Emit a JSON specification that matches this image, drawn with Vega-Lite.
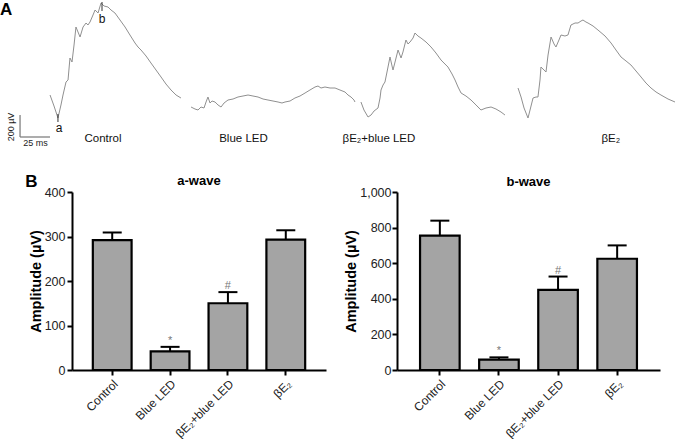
{
  "$schema": "https://vega.github.io/schema/vega-lite/v6.json",
  "padding": {"left": 0, "top": 0, "right": 0, "bottom": 0},
  "spacing": 3,
  "config": {"view": {"stroke": null}, "font": "Liberation Sans"},
  "datasets": {
    "traces": [
      {"trace":"Control","t":41.7,"uv":850},{"trace":"Control","t":45,"uv":740},{"trace":"Control","t":48.3,"uv":620},{"trace":"Control","t":50.8,"uv":750},{"trace":"Control","t":52.5,"uv":850},{"trace":"Control","t":55,"uv":980},{"trace":"Control","t":56.7,"uv":1000},{"trace":"Control","t":58.3,"uv":1220},{"trace":"Control","t":60,"uv":1180},{"trace":"Control","t":61.7,"uv":1350},{"trace":"Control","t":63.3,"uv":1530},{"trace":"Control","t":65,"uv":1480},{"trace":"Control","t":66.7,"uv":1430},{"trace":"Control","t":69.2,"uv":1530},{"trace":"Control","t":71.7,"uv":1570},{"trace":"Control","t":73.3,"uv":1550},{"trace":"Control","t":75,"uv":1580},{"trace":"Control","t":77.5,"uv":1650},{"trace":"Control","t":79.2,"uv":1700},{"trace":"Control","t":81.7,"uv":1670},{"trace":"Control","t":84.2,"uv":1770},{"trace":"Control","t":86.7,"uv":1740},{"trace":"Control","t":90,"uv":1730},{"trace":"Control","t":92.5,"uv":1700},{"trace":"Control","t":95.8,"uv":1670},{"trace":"Control","t":100,"uv":1600},{"trace":"Control","t":104.2,"uv":1530},{"trace":"Control","t":108.3,"uv":1450},{"trace":"Control","t":112.5,"uv":1370},{"trace":"Control","t":115,"uv":1330},{"trace":"Control","t":117.5,"uv":1300},{"trace":"Control","t":121.7,"uv":1240},{"trace":"Control","t":125.8,"uv":1170},{"trace":"Control","t":130,"uv":1100},{"trace":"Control","t":134.2,"uv":1030},{"trace":"Control","t":138.3,"uv":960},{"trace":"Control","t":142.5,"uv":900},{"trace":"Control","t":146.7,"uv":850},{"trace":"Control","t":150.8,"uv":820},
      {"trace":"Blue LED","t":159.2,"uv":730},{"trace":"Blue LED","t":162.5,"uv":710},{"trace":"Blue LED","t":165,"uv":700},{"trace":"Blue LED","t":167.5,"uv":730},{"trace":"Blue LED","t":170,"uv":720},{"trace":"Blue LED","t":171.7,"uv":780},{"trace":"Blue LED","t":173.3,"uv":830},{"trace":"Blue LED","t":175,"uv":770},{"trace":"Blue LED","t":176.7,"uv":790},{"trace":"Blue LED","t":179.2,"uv":780},{"trace":"Blue LED","t":181.7,"uv":750},{"trace":"Blue LED","t":184.2,"uv":730},{"trace":"Blue LED","t":186.7,"uv":770},{"trace":"Blue LED","t":190,"uv":800},{"trace":"Blue LED","t":194.2,"uv":810},{"trace":"Blue LED","t":198.3,"uv":830},{"trace":"Blue LED","t":202.5,"uv":840},{"trace":"Blue LED","t":206.7,"uv":850},{"trace":"Blue LED","t":210.8,"uv":840},{"trace":"Blue LED","t":215,"uv":830},{"trace":"Blue LED","t":219.2,"uv":810},{"trace":"Blue LED","t":223.3,"uv":800},{"trace":"Blue LED","t":227.5,"uv":790},{"trace":"Blue LED","t":231.7,"uv":780},{"trace":"Blue LED","t":235,"uv":770},{"trace":"Blue LED","t":237.5,"uv":780},{"trace":"Blue LED","t":241.7,"uv":790},{"trace":"Blue LED","t":245.8,"uv":820},{"trace":"Blue LED","t":250,"uv":840},{"trace":"Blue LED","t":254.2,"uv":870},{"trace":"Blue LED","t":258.3,"uv":900},{"trace":"Blue LED","t":262.5,"uv":930},{"trace":"Blue LED","t":265,"uv":940},{"trace":"Blue LED","t":267.5,"uv":920},{"trace":"Blue LED","t":270.8,"uv":930},{"trace":"Blue LED","t":275,"uv":920},{"trace":"Blue LED","t":279.2,"uv":920},{"trace":"Blue LED","t":283.3,"uv":900},{"trace":"Blue LED","t":287.5,"uv":880},{"trace":"Blue LED","t":290,"uv":850},{"trace":"Blue LED","t":292.5,"uv":830},{"trace":"Blue LED","t":295,"uv":800},{"trace":"Blue LED","t":295.8,"uv":780},
      {"trace":"bE2 blue","t":300.8,"uv":780},{"trace":"bE2 blue","t":303.3,"uv":700},{"trace":"bE2 blue","t":306.7,"uv":630},{"trace":"bE2 blue","t":309.2,"uv":650},{"trace":"bE2 blue","t":311.7,"uv":690},{"trace":"bE2 blue","t":315,"uv":720},{"trace":"bE2 blue","t":316.7,"uv":820},{"trace":"bE2 blue","t":317.5,"uv":900},{"trace":"bE2 blue","t":319.2,"uv":950},{"trace":"bE2 blue","t":320.8,"uv":980},{"trace":"bE2 blue","t":322.5,"uv":1080},{"trace":"bE2 blue","t":325,"uv":1230},{"trace":"bE2 blue","t":326.7,"uv":1140},{"trace":"bE2 blue","t":327.5,"uv":1100},{"trace":"bE2 blue","t":329.2,"uv":1180},{"trace":"bE2 blue","t":331.7,"uv":1300},{"trace":"bE2 blue","t":334.2,"uv":1220},{"trace":"bE2 blue","t":335.8,"uv":1280},{"trace":"bE2 blue","t":338.3,"uv":1400},{"trace":"bE2 blue","t":340,"uv":1360},{"trace":"bE2 blue","t":341.7,"uv":1380},{"trace":"bE2 blue","t":344.2,"uv":1420},{"trace":"bE2 blue","t":345.8,"uv":1470},{"trace":"bE2 blue","t":348.3,"uv":1440},{"trace":"bE2 blue","t":350.8,"uv":1420},{"trace":"bE2 blue","t":355,"uv":1380},{"trace":"bE2 blue","t":359.2,"uv":1330},{"trace":"bE2 blue","t":363.3,"uv":1270},{"trace":"bE2 blue","t":367.5,"uv":1200},{"trace":"bE2 blue","t":370.8,"uv":1160},{"trace":"bE2 blue","t":373.3,"uv":1130},{"trace":"bE2 blue","t":376.7,"uv":1060},{"trace":"bE2 blue","t":379.2,"uv":1000},{"trace":"bE2 blue","t":381.7,"uv":930},{"trace":"bE2 blue","t":384.2,"uv":870},{"trace":"bE2 blue","t":388.3,"uv":840},{"trace":"bE2 blue","t":392.5,"uv":800},{"trace":"bE2 blue","t":396.7,"uv":750},{"trace":"bE2 blue","t":400.8,"uv":700},{"trace":"bE2 blue","t":405,"uv":720},{"trace":"bE2 blue","t":409.2,"uv":730},{"trace":"bE2 blue","t":413.3,"uv":710},{"trace":"bE2 blue","t":417.5,"uv":680},{"trace":"bE2 blue","t":420.8,"uv":650},
      {"trace":"bE2","t":431.7,"uv":920},{"trace":"bE2","t":434.2,"uv":830},{"trace":"bE2","t":436.7,"uv":720},{"trace":"bE2","t":440,"uv":620},{"trace":"bE2","t":441.7,"uv":700},{"trace":"bE2","t":444.2,"uv":820},{"trace":"bE2","t":446.7,"uv":830},{"trace":"bE2","t":448.3,"uv":830},{"trace":"bE2","t":450,"uv":1000},{"trace":"bE2","t":450.8,"uv":1130},{"trace":"bE2","t":453.3,"uv":1100},{"trace":"bE2","t":455,"uv":1080},{"trace":"bE2","t":456.7,"uv":1250},{"trace":"bE2","t":459.2,"uv":1430},{"trace":"bE2","t":461.7,"uv":1360},{"trace":"bE2","t":463.3,"uv":1330},{"trace":"bE2","t":465.8,"uv":1400},{"trace":"bE2","t":467.5,"uv":1450},{"trace":"bE2","t":470.8,"uv":1440},{"trace":"bE2","t":473.3,"uv":1450},{"trace":"bE2","t":475.8,"uv":1550},{"trace":"bE2","t":479.2,"uv":1570},{"trace":"bE2","t":481.7,"uv":1570},{"trace":"bE2","t":484.2,"uv":1590},{"trace":"bE2","t":485.8,"uv":1600},{"trace":"bE2","t":488.3,"uv":1580},{"trace":"bE2","t":490,"uv":1570},{"trace":"bE2","t":494.2,"uv":1540},{"trace":"bE2","t":498.3,"uv":1500},{"trace":"bE2","t":504.2,"uv":1440},{"trace":"bE2","t":509.2,"uv":1370},{"trace":"bE2","t":513.3,"uv":1300},{"trace":"bE2","t":517.5,"uv":1230},{"trace":"bE2","t":521.7,"uv":1190},{"trace":"bE2","t":525.8,"uv":1150},{"trace":"bE2","t":530,"uv":1090},{"trace":"bE2","t":534.2,"uv":1030},{"trace":"bE2","t":538.3,"uv":970},{"trace":"bE2","t":542.5,"uv":920},{"trace":"bE2","t":546.7,"uv":880},{"trace":"bE2","t":550.8,"uv":850},{"trace":"bE2","t":556.7,"uv":810},{"trace":"bE2","t":562.5,"uv":780}
    ],
    "markers": [
      {"t":48.3,"uv":580,"uv2":660},
      {"t":85,"uv":1690,"uv2":1780}
    ],
    "markerLabels": [
      {"t":49.2,"uv":520,"label":"a"},
      {"t":85,"uv":1610,"label":"b"}
    ],
    "scalebar": [
      {"t":16.7,"t2":16.7,"uv":430,"uv2":650},
      {"t":16.7,"t2":41.7,"uv":430,"uv2":430}
    ],
    "scaleV": [{"t":9.2,"uv":530,"label":"200 µV"}],
    "scaleH": [{"t":29.6,"uv":375,"label":"25 ms"}],
    "conditions": [
      {"t":85.8,"uv":410,"label":"Control"},
      {"t":202.9,"uv":410,"label":"Blue LED"},
      {"t":315.8,"uv":410,"label":"βE₂+blue LED"},
      {"t":509,"uv":410,"label":"βE₂"}
    ],
    "panelA": [{"t":0,"uv":1700,"label":"A"}],
    "awave": [
      {"group":"Control","mean":292,"upper":309,"sig":""},
      {"group":"Blue LED","mean":42,"upper":52,"sig":"*"},
      {"group":"βE₂+blue LED","mean":150,"upper":175,"sig":"#"},
      {"group":"βE₂","mean":293,"upper":314,"sig":""}
    ],
    "bwave": [
      {"group":"Control","mean":755,"upper":839,"sig":""},
      {"group":"Blue LED","mean":58,"upper":71,"sig":"*"},
      {"group":"βE₂+blue LED","mean":450,"upper":525,"sig":"#"},
      {"group":"βE₂","mean":625,"upper":700,"sig":""}
    ]
  },
  "vconcat": [
    {
      "width": 678,
      "height": 170,
      "encoding": {
        "x": {"field": "t", "type": "quantitative", "scale": {"domain": [0, 565], "nice": false, "zero": false}, "axis": null},
        "y": {"field": "uv", "type": "quantitative", "scale": {"domain": [100, 1800], "nice": false, "zero": false}, "axis": null}
      },
      "layer": [
        {"data": {"name": "traces"}, "mark": {"type": "line", "color": "#909090", "strokeWidth": 1}, "encoding": {"detail": {"field": "trace"}}},
        {"data": {"name": "markers"}, "mark": {"type": "rule", "color": "#333333", "strokeWidth": 1}, "encoding": {"y2": {"field": "uv2"}}},
        {"data": {"name": "markerLabels"}, "mark": {"type": "text", "fontSize": 12, "color": "#111111", "baseline": "middle"}, "encoding": {"text": {"field": "label"}}},
        {"data": {"name": "scalebar"}, "mark": {"type": "rule", "color": "#777777", "strokeWidth": 1.2}, "encoding": {"x2": {"field": "t2"}, "y2": {"field": "uv2"}}},
        {"data": {"name": "scaleV"}, "mark": {"type": "text", "fontSize": 9, "color": "#222222", "angle": 270, "baseline": "middle"}, "encoding": {"text": {"field": "label"}}},
        {"data": {"name": "scaleH"}, "mark": {"type": "text", "fontSize": 9, "color": "#222222", "baseline": "middle"}, "encoding": {"text": {"field": "label"}}},
        {"data": {"name": "conditions"}, "mark": {"type": "text", "fontSize": 11.5, "color": "#111111", "baseline": "middle"}, "encoding": {"text": {"field": "label"}}},
        {"data": {"name": "panelA"}, "mark": {"type": "text", "fontSize": 17, "fontWeight": "bold", "color": "#000000", "align": "left", "baseline": "middle"}, "encoding": {"text": {"field": "label"}}}
      ]
    },
    {
      "spacing": 17,
      "hconcat": [
        {"width": 8, "height": 5, "data": {"values": []}, "mark": "point"},
        {
          "width": 254,
          "height": 178,
          "title": {"text": "a-wave", "fontSize": 13, "fontWeight": "bold", "color": "#000000", "frame": "group", "offset": -15},
          "data": {"name": "awave"},
          "encoding": {
            "x": {"field": "group", "type": "nominal", "sort": null, "scale": {"paddingInner": 0.33, "paddingOuter": 0.36},
              "axis": {"title": null, "labelAngle": -45, "labelFontSize": 12, "labelColor": "#222222", "domainColor": "#000000", "domainWidth": 2, "tickColor": "#000000", "tickWidth": 2, "tickSize": 5, "labelPadding": 3, "labelOverlap": false}}
          },
          "layer": [
            {"mark": {"type": "rule", "color": "#000000", "strokeWidth": 2},
              "encoding": {"y": {"field": "mean", "type": "quantitative", "scale": {"domain": [0, 400]},
                "axis": {"title": "Amplitude (µV)", "titleFontSize": 14.5, "titleFontWeight": "bold", "titleColor": "#000000", "titlePadding": 1, "labelFontSize": 12.5, "labelColor": "#222222", "domainColor": "#000000", "domainWidth": 2, "tickColor": "#000000", "tickWidth": 2, "tickSize": 5, "grid": false, "values": [0, 100, 200, 300, 400], "labelPadding": 2, "labelOverlap": false}},
                "y2": {"field": "upper"}}},
            {"mark": {"type": "tick", "color": "#000000", "size": 19, "thickness": 2, "opacity": 1}, "encoding": {"y": {"field": "upper", "type": "quantitative",
                "axis": {"title": "Amplitude (µV)", "titleFontSize": 14.5, "titleFontWeight": "bold", "titleColor": "#000000", "titlePadding": 1, "labelFontSize": 12.5, "labelColor": "#222222", "domainColor": "#000000", "domainWidth": 2, "tickColor": "#000000", "tickWidth": 2, "tickSize": 5, "grid": false, "values": [0, 100, 200, 300, 400], "labelPadding": 2, "labelOverlap": false}}}},
            {"mark": {"type": "bar", "fill": "#a4a4a4", "stroke": "#000000", "strokeWidth": 2.2}, "encoding": {"y": {"field": "mean", "type": "quantitative",
                "axis": {"title": "Amplitude (µV)", "titleFontSize": 14.5, "titleFontWeight": "bold", "titleColor": "#000000", "titlePadding": 1, "labelFontSize": 12.5, "labelColor": "#222222", "domainColor": "#000000", "domainWidth": 2, "tickColor": "#000000", "tickWidth": 2, "tickSize": 5, "grid": false, "values": [0, 100, 200, 300, 400], "labelPadding": 2, "labelOverlap": false}}}},
            {"transform": [{"filter": "datum.sig != ''"}], "mark": {"type": "text", "fontSize": 11, "color": "#777777", "baseline": "bottom", "dy": -1}, "encoding": {"y": {"field": "upper", "type": "quantitative",
                "axis": {"title": "Amplitude (µV)", "titleFontSize": 14.5, "titleFontWeight": "bold", "titleColor": "#000000", "titlePadding": 1, "labelFontSize": 12.5, "labelColor": "#222222", "domainColor": "#000000", "domainWidth": 2, "tickColor": "#000000", "tickWidth": 2, "tickSize": 5, "grid": false, "values": [0, 100, 200, 300, 400], "labelPadding": 2, "labelOverlap": false}}, "text": {"field": "sig"}}},
            {"data": {"values": [{"label": "B"}]}, "mark": {"type": "text", "fontSize": 17, "fontWeight": "bold", "color": "#000000", "align": "left", "baseline": "alphabetic", "dx": -87},
              "encoding": {"x": {"datum": "Control"}, "y": {"datum": 411}, "text": {"field": "label"}}}
          ]
        },
        {
          "width": 263,
          "height": 178,
          "title": {"text": "b-wave", "fontSize": 13, "fontWeight": "bold", "color": "#000000", "frame": "group", "offset": -3},
          "data": {"name": "bwave"},
          "encoding": {
            "x": {"field": "group", "type": "nominal", "sort": null, "scale": {"paddingInner": 0.33, "paddingOuter": 0.39},
              "axis": {"title": null, "labelAngle": -45, "labelFontSize": 12, "labelColor": "#222222", "domainColor": "#000000", "domainWidth": 2, "tickColor": "#000000", "tickWidth": 2, "tickSize": 5, "labelPadding": 3, "labelOverlap": false}}
          },
          "layer": [
            {"mark": {"type": "rule", "color": "#000000", "strokeWidth": 2},
              "encoding": {"y": {"field": "mean", "type": "quantitative", "scale": {"domain": [0, 1000]},
                "axis": {"title": "Amplitude (µV)", "titleFontSize": 14.5, "titleFontWeight": "bold", "titleColor": "#000000", "titlePadding": 1, "labelFontSize": 12.5, "labelColor": "#222222", "domainColor": "#000000", "domainWidth": 2, "tickColor": "#000000", "tickWidth": 2, "tickSize": 5, "grid": false, "values": [0, 200, 400, 600, 800, 1000], "format": ",d", "labelPadding": 1, "labelOverlap": false}},
                "y2": {"field": "upper"}}},
            {"mark": {"type": "tick", "color": "#000000", "size": 19, "thickness": 2, "opacity": 1}, "encoding": {"y": {"field": "upper", "type": "quantitative",
                "axis": {"title": "Amplitude (µV)", "titleFontSize": 14.5, "titleFontWeight": "bold", "titleColor": "#000000", "titlePadding": 1, "labelFontSize": 12.5, "labelColor": "#222222", "domainColor": "#000000", "domainWidth": 2, "tickColor": "#000000", "tickWidth": 2, "tickSize": 5, "grid": false, "values": [0, 200, 400, 600, 800, 1000], "format": ",d", "labelPadding": 1, "labelOverlap": false}}}},
            {"mark": {"type": "bar", "fill": "#a4a4a4", "stroke": "#000000", "strokeWidth": 2.2}, "encoding": {"y": {"field": "mean", "type": "quantitative",
                "axis": {"title": "Amplitude (µV)", "titleFontSize": 14.5, "titleFontWeight": "bold", "titleColor": "#000000", "titlePadding": 1, "labelFontSize": 12.5, "labelColor": "#222222", "domainColor": "#000000", "domainWidth": 2, "tickColor": "#000000", "tickWidth": 2, "tickSize": 5, "grid": false, "values": [0, 200, 400, 600, 800, 1000], "format": ",d", "labelPadding": 1, "labelOverlap": false}}}},
            {"transform": [{"filter": "datum.sig != ''"}], "mark": {"type": "text", "fontSize": 11, "color": "#777777", "baseline": "bottom", "dy": -1}, "encoding": {"y": {"field": "upper", "type": "quantitative",
                "axis": {"title": "Amplitude (µV)", "titleFontSize": 14.5, "titleFontWeight": "bold", "titleColor": "#000000", "titlePadding": 1, "labelFontSize": 12.5, "labelColor": "#222222", "domainColor": "#000000", "domainWidth": 2, "tickColor": "#000000", "tickWidth": 2, "tickSize": 5, "grid": false, "values": [0, 200, 400, 600, 800, 1000], "format": ",d", "labelPadding": 1, "labelOverlap": false}}, "text": {"field": "sig"}}}
          ]
        }
      ]
    }
  ]
}
